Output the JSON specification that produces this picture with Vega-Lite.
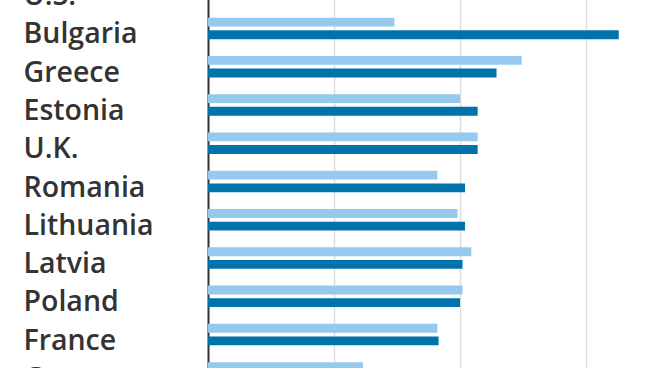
{
  "$schema": "https://vega.github.io/schema/vega-lite/v6.json",
  "autosize": "none",
  "width": 441,
  "height": 421,
  "padding": {"left": 208, "top": -29, "right": 0, "bottom": -24},
  "background": "#ffffff",
  "data": {
    "values": [
      {"country": "Bulgaria", "period": "Before", "value": 14.8},
      {"country": "Bulgaria", "period": "After", "value": 32.6},
      {"country": "Greece", "period": "Before", "value": 24.9},
      {"country": "Greece", "period": "After", "value": 22.9},
      {"country": "Estonia", "period": "Before", "value": 20.0},
      {"country": "Estonia", "period": "After", "value": 21.4},
      {"country": "U.K.", "period": "Before", "value": 21.4},
      {"country": "U.K.", "period": "After", "value": 21.4},
      {"country": "Romania", "period": "Before", "value": 18.2},
      {"country": "Romania", "period": "After", "value": 20.4},
      {"country": "Lithuania", "period": "Before", "value": 19.8},
      {"country": "Lithuania", "period": "After", "value": 20.4},
      {"country": "Latvia", "period": "Before", "value": 20.9},
      {"country": "Latvia", "period": "After", "value": 20.2},
      {"country": "Poland", "period": "Before", "value": 20.2},
      {"country": "Poland", "period": "After", "value": 20.0},
      {"country": "France", "period": "Before", "value": 18.2},
      {"country": "France", "period": "After", "value": 18.3},
      {"country": "Germany", "period": "Before", "value": 12.3}
    ]
  },
  "mark": {"type": "bar"},
  "encoding": {
    "y": {
      "field": "country",
      "type": "nominal",
      "sort": null,
      "scale": {
        "domain": ["U.S.", "Bulgaria", "Greece", "Estonia", "U.K.", "Romania", "Lithuania", "Latvia", "Poland", "France", "Germany"],
        "paddingInner": 0.44,
        "paddingOuter": 0.22
      },
      "axis": {
        "title": null,
        "ticks": false,
        "tickSize": 0,
        "labelAlign": "left",
        "labelPadding": 185,
        "labelBaseline": "middle",
        "labelOffset": 6,
        "labelFont": "Open Sans",
        "labelFontSize": 28.5,
        "labelFontWeight": 600,
        "labelColor": "#333333",
        "labelOverlap": false,
        "labelLimit": 0,
        "domain": true,
        "domainColor": "#333333",
        "domainWidth": 2,
        "grid": false
      }
    },
    "yOffset": {
      "field": "period",
      "type": "nominal",
      "scale": {"domain": ["Before", "After"], "paddingInner": 0.3, "paddingOuter": 0}
    },
    "x": {
      "field": "value",
      "type": "quantitative",
      "scale": {"domain": [0, 35], "nice": false},
      "axis": {
        "title": null,
        "labels": false,
        "ticks": false,
        "domain": false,
        "grid": true,
        "values": [10, 20, 30],
        "gridColor": "#dddddd",
        "gridWidth": 1.5
      }
    },
    "color": {
      "field": "period",
      "type": "nominal",
      "scale": {"domain": ["Before", "After"], "range": ["#95caee", "#0073ad"]},
      "legend": null
    }
  },
  "config": {"view": {"stroke": null}}
}
